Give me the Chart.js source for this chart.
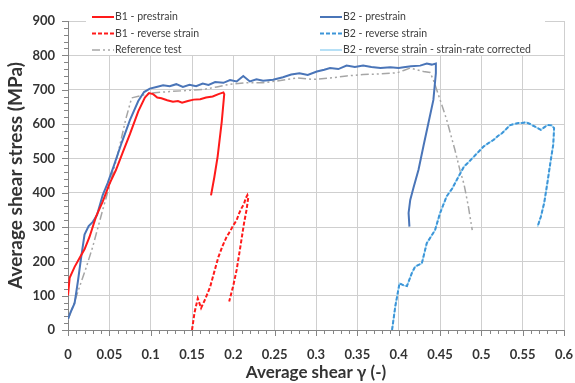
<!DOCTYPE html>
<html>
<head>
<meta charset="utf-8">
<script src="https://cdn.jsdelivr.net/npm/chart.js@4.4.1/dist/chart.umd.min.js"></script>
<style>
  body { margin: 0; background: #fff; }
</style>
</head>
<body>
<canvas id="shear_graph" width="575" height="383"></canvas>
<script>
// tick labels
const xTickValues = [0, 0.05, 0.1, 0.15, 0.2, 0.25, 0.3, 0.35, 0.4, 0.45, 0.5, 0.55, 0.6]
const yTickValues = [0, 100, 200, 300, 400, 500, 600, 700, 800, 900]

// B1 - prestrain
const b1PreX = [0, 0.002, 0.008, 0.014, 0.02, 0.026, 0.034, 0.042, 0.05, 0.058, 0.066, 0.075, 0.085, 0.093, 0.098, 0.103, 0.108, 0.113, 0.12, 0.127, 0.133, 0.138, 0.145, 0.152, 0.16, 0.167, 0.175, 0.182, 0.188, 0.189, 0.186, 0.181, 0.177, 0.173]
const b1PreY = [101, 152, 184, 210, 235, 271, 331, 374, 425, 466, 516, 571, 637, 677, 690, 687, 677, 675, 669, 665, 667, 662, 667, 671, 672, 677, 680, 687, 692, 687, 607, 505, 445, 392]

// B1 - reverse strain
const b1RevX = [0.15, 0.153, 0.157, 0.161, 0.166, 0.172, 0.177, 0.182, 0.187, 0.192, 0.196, 0.2, 0.204, 0.207, 0.21, 0.213, 0.215, 0.217, 0.218, 0.216, 0.213, 0.209, 0.204, 0.2, 0.195]
const b1RevY = [0, 50, 92, 64, 90, 126, 170, 213, 245, 272, 287, 305, 320, 340, 355, 368, 384, 393, 385, 350, 312, 250, 175, 130, 83]

// Reference test
const refX = [0, 0.005, 0.014, 0.022, 0.03, 0.042, 0.05, 0.06, 0.07, 0.077, 0.087, 0.1, 0.12, 0.147, 0.165, 0.18, 0.196, 0.215, 0.236, 0.255, 0.277, 0.297, 0.317, 0.337, 0.357, 0.378, 0.398, 0.406, 0.414, 0.422, 0.43, 0.438, 0.442, 0.446, 0.452, 0.458, 0.468, 0.474, 0.479, 0.484, 0.489]
const refY = [30, 61, 126, 182, 243, 350, 418, 510, 615, 676, 682, 690, 694, 698, 701, 708, 716, 720, 720, 726, 734, 730, 734, 740, 744, 746, 749, 756, 763, 758, 753, 750, 728, 700, 657, 613, 525, 467, 425, 364, 291]

// B2 - prestrain
const b2PreX = [0, 0.003, 0.008, 0.012, 0.016, 0.02, 0.025, 0.03, 0.035, 0.042, 0.048, 0.055, 0.065, 0.075, 0.085, 0.092, 0.099, 0.107, 0.115, 0.123, 0.131, 0.139, 0.147, 0.155, 0.163, 0.17, 0.178, 0.188, 0.196, 0.204, 0.212, 0.22, 0.228, 0.236, 0.248, 0.26, 0.27, 0.28, 0.29, 0.301, 0.31, 0.317, 0.327, 0.337, 0.347, 0.357, 0.367, 0.378, 0.39, 0.4, 0.406, 0.415, 0.426, 0.434, 0.44, 0.445, 0.445, 0.442, 0.436, 0.43, 0.424, 0.418, 0.414, 0.412, 0.413]
const b2PreY = [32, 51, 78, 142, 213, 278, 303, 315, 334, 393, 428, 475, 546, 612, 667, 693, 703, 708, 713, 710, 716, 708, 714, 710, 718, 714, 722, 720, 728, 724, 740, 724, 730, 726, 729, 736, 744, 748, 743, 753, 758, 763, 760, 770, 766, 770, 766, 763, 765, 763, 765, 768, 770, 776, 773, 776, 748, 670, 603, 536, 467, 415, 379, 341, 301]

// B2 - reverse strain (the strain-rate corrected curve lies on top of it)
const b2RevX = [0.392, 0.396, 0.401, 0.406, 0.41, 0.416, 0.42, 0.428, 0.434, 0.438, 0.444, 0.45, 0.458, 0.465, 0.472, 0.479, 0.485, 0.491, 0.497, 0.503, 0.509, 0.515, 0.52, 0.525, 0.53, 0.535, 0.54, 0.545, 0.549, 0.554, 0.559, 0.565, 0.572, 0.576, 0.58, 0.585, 0.588, 0.587, 0.584, 0.58, 0.576, 0.572, 0.568]
const b2RevY = [0, 70, 136, 130, 128, 166, 185, 194, 253, 268, 291, 340, 389, 413, 445, 476, 490, 505, 520, 535, 545, 554, 565, 573, 585, 597, 600, 603, 603, 605, 600, 592, 583, 590, 597, 596, 588, 540, 495, 430, 370, 330, 301]
const b2CorrX = b2RevX
const b2CorrY = b2RevY

const pts = (xs, ys) => xs.map((x, i) => ({x: x, y: ys[i]}))
const font = 'Lato'

const data = {
    datasets: [{
        label: 'B1 - prestrain',
        data: pts(b1PreX, b1PreY),
        borderColor: '#ff1a1a',
        borderWidth: 2,
        order: 1,
    },
    {
        label: 'B1 - reverse strain',
        data: pts(b1RevX, b1RevY),
        borderColor: '#ff1a1a',
        borderWidth: 2,
        borderDash: [4, 2],
        order: 1,
    },
    {
        label: 'Reference test',
        data: pts(refX, refY),
        borderColor: '#a6a6a6',
        borderWidth: 1.5,
        borderDash: [8, 3, 2, 3, 2, 3],
        order: 3,
    },
    {
        label: 'B2 - prestrain',
        data: pts(b2PreX, b2PreY),
        borderColor: '#4a75b8',
        borderWidth: 2,
        order: 2,
    },
    {
        label: 'B2 - reverse strain',
        data: pts(b2RevX, b2RevY),
        borderColor: '#3d95d8',
        borderWidth: 2,
        borderDash: [4, 2],
        order: 1,
    },
    {
        label: 'B2 - reverse strain - strain-rate corrected',
        data: pts(b2CorrX, b2CorrY),
        borderColor: '#9ed6f3',
        borderWidth: 1.5,
        order: 2,
    }
]}

// minor tick marks along both axes, like the spreadsheet original
const minorTicks = {
    id: 'minorTicks',
    afterDraw(chart) {
        const ctx = chart.ctx
        const xs = chart.scales.x, ys = chart.scales.y
        const area = chart.chartArea
        ctx.save()
        ctx.strokeStyle = '#858585'
        ctx.lineWidth = 1
        ctx.beginPath()
        for (let i = 0; i <= 60; i++) {
            const px = Math.round(xs.getPixelForValue(i / 100)) + 0.5
            const len = i % 5 === 0 ? 6 : 4
            ctx.moveTo(px, area.bottom)
            ctx.lineTo(px, area.bottom + len)
        }
        for (let v = 0; v <= 900; v += 20) {
            const py = Math.round(ys.getPixelForValue(v)) + 0.5
            const len = v % 100 === 0 ? 6 : 4
            ctx.moveTo(area.left, py)
            ctx.lineTo(area.left - len, py)
        }
        ctx.stroke()
        ctx.restore()
    }
}

// legend in two columns over a white box at the top of the plot
const boxLegend = {
    id: 'boxLegend',
    afterDraw(chart) {
        const ctx = chart.ctx
        ctx.save()
        ctx.fillStyle = '#ffffff'
        ctx.fillRect(86, 0, 459, 55)
        ctx.font = '10.5px ' + font
        ctx.textBaseline = 'middle'
        chart.data.datasets.forEach((ds, i) => {
            const col = i < 3 ? 0 : 1
            const row = i % 3
            const x0 = col === 0 ? 92 : 320
            const y = 17 + row * 16.5
            ctx.strokeStyle = ds.borderColor
            ctx.lineWidth = ds.borderWidth
            ctx.setLineDash(ds.borderDash || [])
            ctx.beginPath()
            ctx.moveTo(x0, y)
            ctx.lineTo(x0 + 22, y)
            ctx.stroke()
            ctx.setLineDash([])
            ctx.fillStyle = '#404040'
            ctx.fillText(ds.label, x0 + 23, y)
        })
        ctx.restore()
    }
}

const config = {
    type: 'line',
    data: data,
    options: {
        responsive: false,
        animation: false,
        layout: {
            padding: {top: 21, right: 11, left: 0, bottom: 0}
        },
        elements: {
            point: {radius: 0},
            line: {tension: 0, fill: false}
        },
        plugins: {
            legend: {display: false},
            tooltip: {enabled: false}
        },
        scales: {
            x: {
                type: 'linear',
                min: 0,
                max: 0.6,
                afterBuildTicks: s => { s.ticks = xTickValues.map(v => ({value: v})) },
                afterFit: s => {
                    s.height = 53
                    s.paddingLeft = 0
                    s.paddingRight = 0
                },
                grid: {color: '#cfcfcf', drawTicks: false},
                border: {color: '#858585'},
                ticks: {
                    padding: 17,
                    color: '#333333',
                    font: {family: font, size: 13, weight: 'bold'},
                    maxRotation: 0,
                    callback: v => String(Number(v.toFixed(2)))
                },
                title: {
                    display: true,
                    text: 'Average shear γ (-)',
                    color: '#333333',
                    font: {family: font, size: 17, weight: 'bold'},
                    padding: {top: 0, bottom: 0}
                }
            },
            y: {
                min: 0,
                max: 900,
                afterBuildTicks: s => { s.ticks = yTickValues.map(v => ({value: v})) },
                afterFit: s => { s.width = 68 },
                grid: {color: '#cfcfcf', drawTicks: false},
                border: {color: '#858585'},
                ticks: {
                    padding: 13,
                    color: '#333333',
                    font: {family: font, size: 13, weight: 'bold'}
                },
                title: {
                    display: true,
                    text: 'Average shear stress (MPa)',
                    color: '#333333',
                    font: {family: font, size: 19, weight: 'bold'},
                    padding: {top: 4, bottom: 0}
                }
            }
        }
    },
    plugins: [minorTicks, boxLegend]
}

const shear_graph = new Chart(
    document.getElementById('shear_graph'),
    config
)
</script>
</body>
</html>
